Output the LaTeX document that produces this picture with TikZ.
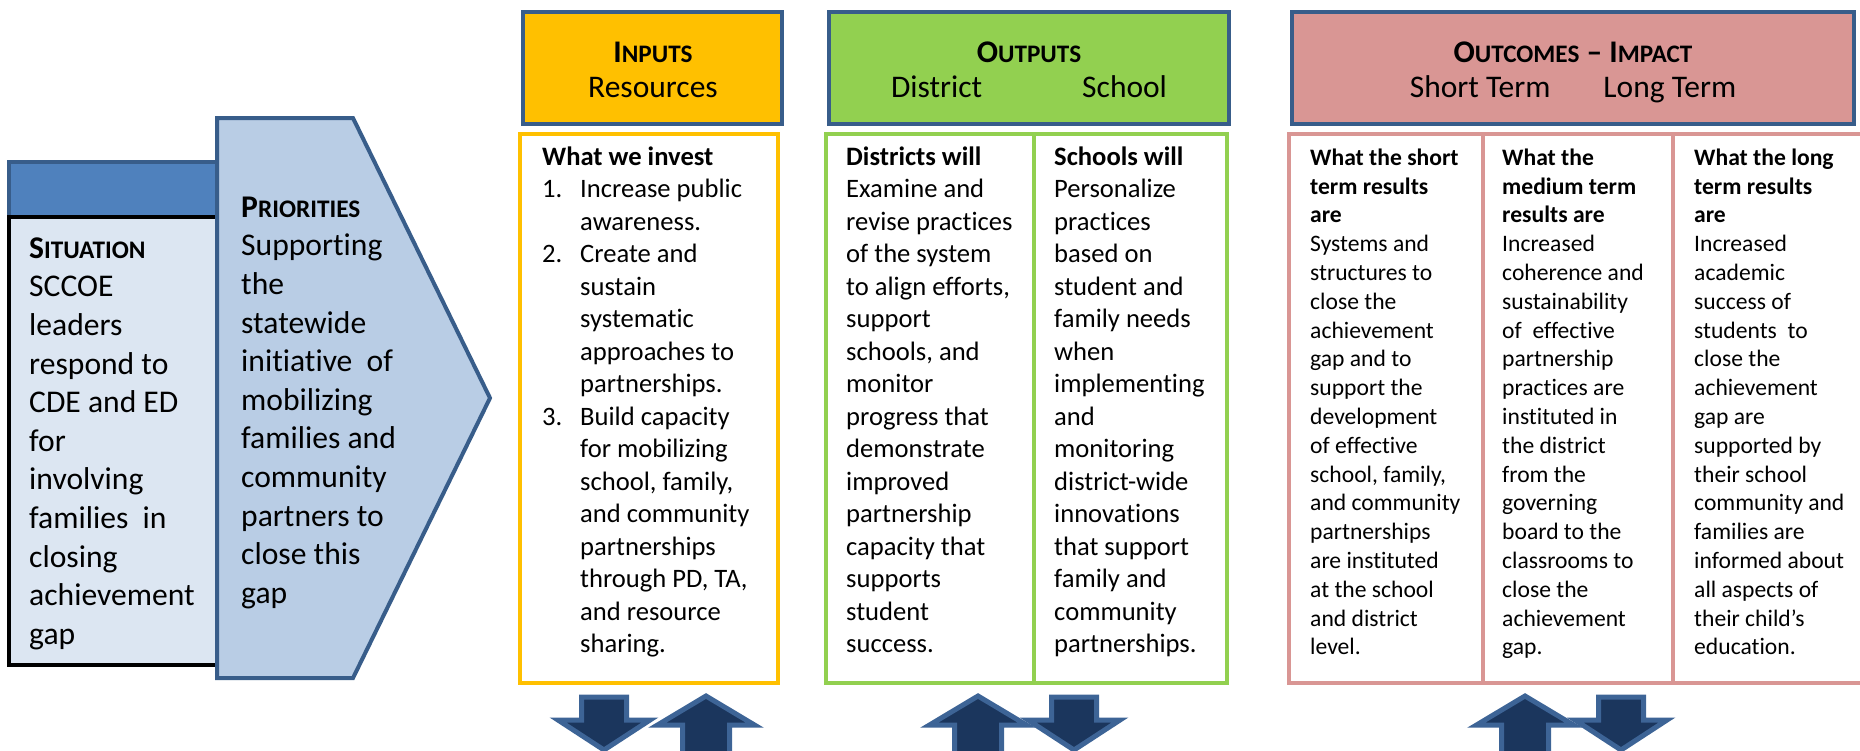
\documentclass[tikz,border=0pt]{standalone}
\usepackage{fontspec}
\setmainfont[Ligatures=NoCommon]{Carlito}
\definecolor{hdrline}{HTML}{385D8A}
\definecolor{sithead}{HTML}{4F81BD}
\definecolor{sitbody}{HTML}{DCE6F2}
\definecolor{prio}{HTML}{B9CDE5}
\definecolor{gold}{HTML}{FFC000}
\definecolor{lgreen}{HTML}{92D050}
\definecolor{rose}{HTML}{D99694}
\definecolor{navy}{HTML}{1B365D}
\definecolor{arrline}{HTML}{3D6496}
\newcommand\fsc[2]{#1\scalebox{0.8}{#2}}
\newcommand\ts{\rule{0pt}{30pt}}
\begin{document}
\begin{tikzpicture}[x=1pt,y=-1pt,
  hdrbox/.style={draw=hdrline,line width=4.5pt},
  bodybox/.style={draw=#1,line width=4pt,fill=white},
  txt/.style={anchor=north west,inner sep=0pt,align=left},
  bigtxt/.style={txt,font=\fontsize{31.6pt}{38.6pt}\selectfont},
  midtxt/.style={txt,font=\fontsize{26.6pt}{32.5pt}\selectfont},
  smalltxt/.style={txt,font=\fontsize{23.6pt}{28.8pt}\selectfont},
  hdrtxt/.style={anchor=north,inner sep=0pt,align=center,font=\fontsize{31.5pt}{35pt}\selectfont},
  blockarr/.style={fill=navy,draw=arrline,line width=5pt,miter limit=10},
  uparr/.pic={\path[blockarr] (0,0) -- (48.5,29) -- (23.5,29) -- (23.5,75) -- (-23.5,75) -- (-23.5,29) -- (-48.5,29) -- cycle;},
  downarr/.pic={\path[blockarr] (-22.5,0) -- (22.5,0) -- (22.5,23) -- (46,23) -- (0,53) -- (-46,23) -- (-22.5,23) -- cycle;}
]
\useasboundingbox (0,0) rectangle (1860,750);

% Situation
\draw[fill=sithead,draw=hdrline,line width=4pt] (9,162) rectangle (217,217);
\draw[fill=sitbody,draw=black,line width=4.5pt] (9,217) rectangle (217,665);
\node[bigtxt] (sit) at (29,228) {\ts\textbf{\fsc{S}{ITUATION}}\\SCCOE\\leaders\\respond to\\CDE and ED\\for\\involving\\families\ \ in\\closing\\achievement\\gap};

% Priorities
\draw[fill=prio,draw=hdrline,line width=4pt,line join=miter] (217,118) -- (353,118) -- (490,398) -- (353,678) -- (217,678) -- cycle;
\node[bigtxt] (prio) at (241,187) {\ts\textbf{\fsc{P}{RIORITIES}}\\Supporting\\the\\statewide\\initiative\ \ of\\mobilizing\\families and\\community\\partners to\\close this\\gap};

% Inputs
\draw[hdrbox,fill=gold] (523,12) rectangle (782,124);
\node[hdrtxt] (inhead) at (653,32) {\ts\textbf{\fsc{I}{NPUTS}}\\Resources};
\draw[bodybox=gold] (520,134) rectangle (778,683);
\node[midtxt] (inbody) at (542,135) {\ts\textbf{What we invest}\\
\makebox[38pt][l]{1.}Increase public\\
\hspace*{38pt}awareness.\\
\makebox[38pt][l]{2.}Create and\\
\hspace*{38pt}sustain\\
\hspace*{38pt}systematic\\
\hspace*{38pt}approaches to\\
\hspace*{38pt}partnerships.\\
\makebox[38pt][l]{3.}Build capacity\\
\hspace*{38pt}for mobilizing\\
\hspace*{38pt}school, family,\\
\hspace*{38pt}and community\\
\hspace*{38pt}partnerships\\
\hspace*{38pt}through PD, TA,\\
\hspace*{38pt}and resource\\
\hspace*{38pt}sharing.};

% Outputs
\draw[hdrbox,fill=lgreen] (829,12) rectangle (1229,124);
\node[hdrtxt] (outhead) at (1029,32) {\ts\textbf{\fsc{O}{UTPUTS}}\\District\hspace{100pt}School};
\draw[bodybox=lgreen] (826,134) rectangle (1227,683);
\draw[draw=lgreen,line width=4pt] (1034,134) -- (1034,683);
\node[midtxt] (dist) at (846,135) {\ts\textbf{Districts will}\\Examine and\\revise practices\\of the system\\to align efforts,\\support\\schools, and\\monitor\\progress that\\demonstrate\\improved\\partnership\\capacity that\\supports\\student\\success.};
\node[midtxt] (school) at (1054,135) {\ts\textbf{Schools will}\\Personalize\\practices\\based on\\student and\\family needs\\when\\implementing\\and\\monitoring\\district-wide\\innovations\\that support\\family and\\community\\partnerships.};

% Outcomes
\draw[hdrbox,fill=rose] (1292,12) rectangle (1854,124);
\node[hdrtxt] (outchead) at (1573,32) {\ts\textbf{\fsc{O}{UTCOMES} – \fsc{I}{MPACT}}\\Short Term\hspace{53pt}Long Term};
\draw[bodybox=rose] (1289,134) rectangle (1866,683);
\draw[draw=rose,line width=4pt] (1483,134) -- (1483,683);
\draw[draw=rose,line width=4pt] (1673,134) -- (1673,683);
\node[smalltxt] (short) at (1310,135) {\ts\textbf{What the short}\\\textbf{term results}\\\textbf{are}\\Systems and\\structures to\\close the\\achievement\\gap and to\\support the\\development\\of effective\\school, family,\\and community\\partnerships\\are instituted\\at the school\\and district\\level.};
\node[smalltxt] (medium) at (1502,135) {\ts\textbf{What the}\\\textbf{medium term}\\\textbf{results are}\\Increased\\coherence and\\sustainability\\of\ \ effective\\partnership\\practices are\\instituted in\\the district\\from the\\governing\\board to the\\classrooms to\\close the\\achievement\\gap.};
\node[smalltxt] (long) at (1694,135) {\ts\textbf{What the long}\\\textbf{term results}\\\textbf{are}\\Increased\\academic\\success of\\students\ \ to\\close the\\achievement\\gap are\\supported by\\their school\\community and\\families are\\informed about\\all aspects of\\their child’s\\education.};

% Block arrows
\pic at (604,697) {downarr};
\pic at (706,696) {uparr};
\pic at (978,696) {uparr};
\pic at (1074,697) {downarr};
\pic at (1525,696) {uparr};
\pic at (1621,697) {downarr};
\end{tikzpicture}
\end{document}
